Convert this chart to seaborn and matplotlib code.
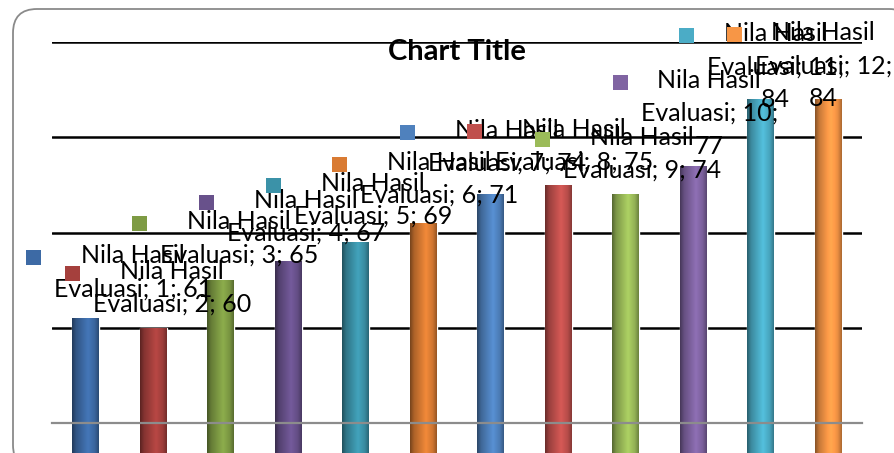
import numpy as np
import pandas as pd
import seaborn as sns
import matplotlib
matplotlib.use("Agg")
import matplotlib.pyplot as plt
from matplotlib.colors import to_rgb
from matplotlib.patches import Rectangle, FancyBboxPatch
from matplotlib.offsetbox import AnnotationBbox, HPacker, TextArea, DrawingArea

# ---- data ----
series_name = "Nila Hasil Evaluasi"
categories = list(range(1, 13))
values = [61, 60, 65, 67, 69, 71, 74, 75, 74, 77, 84, 84]
bar_colors = ["#3D6AA5", "#A5403D", "#7E9B44", "#68518B", "#3B92A8", "#D97B33",
              "#4F81BD", "#C0504D", "#9BBB59", "#8064A2", "#4BACC6", "#F79646"]
chart_title = "Chart Title"
y_ticks = [60, 70, 80, 90]

# data-label placement (pixels): horizontal shift of the label box, and
# height of the box bottom above the bar top
label_dx = [33, 5, 4, 4, 3, 2, 2, 2, 2, 2, 1, -19]
label_dy = [18, 12, 14, 16, 14, 16, 20, 11, 13, 8, -12, -11]

W, H, DPI = 894, 453, 100
PX = 72.0 / DPI

sns.set_theme(style="white")
plt.rcParams["font.family"] = ["Lato", "DejaVu Sans"]

fig = plt.figure(figsize=(W / DPI, H / DPI), dpi=DPI)
fig.patch.set_facecolor("white")

# rounded chart-area frame, drawn in pixel space
bg = fig.add_axes([0, 0, 1, 1], zorder=0)
bg.set_xlim(0, W)
bg.set_ylim(H, 0)
bg.axis("off")
bg.add_patch(FancyBboxPatch((13, 9), 900, 460,
                            boxstyle="round,pad=0,rounding_size=24",
                            fc="white", ec="#8A8A8A", lw=1.3))

# plot area
x0, x1, yb, yt = 52, 862, 423, 42
ax = fig.add_axes([x0 / W, (H - yb) / H, (x1 - x0) / W, (yb - yt) / H], zorder=1)
ax.patch.set_alpha(0)

df = pd.DataFrame({"cat": [str(c) for c in categories], "val": values})
sns.barplot(data=df, x="cat", y="val", hue="cat", palette=bar_colors,
            legend=False, width=0.4, saturation=1, ax=ax, zorder=2)

# cylinder-like shading across each bar
xs = np.linspace(0, 1, 64)
shade = np.interp(xs, [0, 0.15, 0.6, 0.85, 1.0], [0.55, 0.8, 1.12, 0.95, 0.7])
for patch, col in zip(ax.patches, bar_colors):
    bx, by = patch.get_x(), patch.get_y()
    bw, bh = patch.get_width(), patch.get_height()
    rgb = np.array(to_rgb(col))
    img = np.clip(shade[:, None] * rgb[None, :], 0, 1)[None, :, :]
    im = ax.imshow(img, extent=(bx, bx + bw, by, by + bh), aspect="auto",
                   interpolation="bilinear", zorder=2.5)
    im.set_clip_path(patch)

ax.set_xlim(-0.5, len(categories) - 0.5)
ax.set_ylim(50, 90)
ax.set_yticks(y_ticks)
ax.set_xticks([])
ax.tick_params(left=False, bottom=False, labelleft=False, labelbottom=False)
ax.set_xlabel("")
ax.set_ylabel("")
ax.yaxis.grid(True, color="black", lw=1.8)
ax.set_axisbelow(True)
for side in ["left", "right", "top"]:
    ax.spines[side].set_visible(False)
ax.spines["bottom"].set_color("#8C8C8C")
ax.spines["bottom"].set_linewidth(1.6)

# data labels with legend key
for i, (c, v, col) in enumerate(zip(categories, values, bar_colors)):
    if v >= 77:
        txt = f"Nila Hasil\nEvaluasi; {c};\n{v}"
    else:
        txt = f"Nila Hasil\nEvaluasi; {c}; {v}"
    key = DrawingArea(15 * PX, 26 * PX, 0, 0)
    key.add_artist(Rectangle((0, 5 * PX), 15 * PX, 15 * PX, fc=col, ec="none"))
    ta = TextArea(txt, textprops=dict(fontsize=18, color="black",
                                      multialignment="center", linespacing=1.52))
    box = HPacker(children=[key, ta], align="top", pad=0, sep=13 * PX)
    ab = AnnotationBbox(box, (i, v), xybox=(label_dx[i] * PX, label_dy[i] * PX),
                        xycoords="data", boxcoords="offset points",
                        box_alignment=(0.5, 0), frameon=False, pad=0,
                        annotation_clip=False, zorder=5)
    ax.add_artist(ab)

fig.text(457 / W, (H - 60) / H, chart_title, ha="center", va="baseline",
         fontsize=21, fontweight="bold", color="black", zorder=6)

fig.savefig("out.png", dpi=DPI)
